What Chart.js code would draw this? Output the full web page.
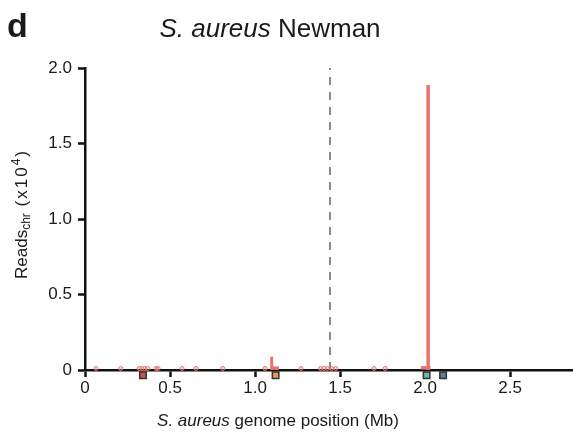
<!DOCTYPE html>
<html>
<head>
<meta charset="utf-8">
<script src="https://cdn.jsdelivr.net/npm/chart.js@4.4.1/dist/chart.umd.min.js"></script>
<style>
  html, body { margin: 0; padding: 0; background: #fff; }
  #wrap { position: relative; width: 573px; height: 434px; overflow: hidden; font-family: "Liberation Sans", Arial, sans-serif; color: #1a1a1a; }
  #cv { position: absolute; left: 0; top: 0; }
  .t { position: absolute; line-height: 1; white-space: nowrap; }
  #panel { left: 7px; top: 8px; font-size: 34px; font-weight: bold; }
  #title { left: 270px; top: 15px; font-size: 26px; transform: translateX(-50%); }
  #xtitle { left: 278px; top: 412px; font-size: 17px; transform: translateX(-50%); }
  #ytitle { left: 21px; top: 214px; font-size: 17px; transform: translate(-50%, -50%) rotate(-90deg); }
  .sub { font-size: 12px; vertical-align: -3px; margin-right: 2px; }
  .sup { font-size: 12px; vertical-align: 7px; }
  .par { letter-spacing: 2px; }
</style>
</head>
<body>
<div id="wrap">
  <canvas id="cv" width="573" height="434"></canvas>
  <div class="t" id="panel">d</div>
  <div class="t" id="title"><i>S. aureus</i> Newman</div>
  <div class="t" id="xtitle"><i>S. aureus</i> genome position (Mb)</div>
  <div class="t" id="ytitle">Reads<span class="sub">chr</span> <span class="par">(x10<span class="sup">4</span>)</span></div>
</div>
<script>
// ---- data (reads in units of 10^4, positions in Mb) ----
const xTicks = [0, 0.5, 1.0, 1.5, 2.0, 2.5];
const yTicks = [0, 0.5, 1.0, 1.5, 2.0];
const genomeLength = 2.87;

// tall read peaks
const peakPos   = [1.098, 2.018];
const peakReads = [0.088, 1.887];

// short stretches of low reads just above the axis
const stretchStart = [1.098, 1.975];
const stretchEnd   = [1.141, 2.032];
const stretchReads = [0.012, 0.014];

// isolated low-read sites
const sitePos   = [0.065, 0.21, 0.318, 0.335, 0.352, 0.368, 0.418, 0.43, 0.571, 0.653, 0.81, 1.059, 1.271, 1.385, 1.405, 1.425, 1.45, 1.475, 1.70, 1.765];
const siteReads = [0.01, 0.01, 0.01, 0.01, 0.01, 0.01, 0.01, 0.01, 0.01, 0.01, 0.01, 0.01, 0.01, 0.01, 0.01, 0.01, 0.01, 0.01, 0.01, 0.01];

// dashed reference position
const dashPos = 1.441;

// gene markers under the axis
const markerPos    = [0.341, 1.121, 2.009, 2.106];
const markerLevel  = [-0.034, -0.034, -0.034, -0.034];
const markerColors = ['#cf5450', '#e8955e', '#6cb7a7', '#5f7f98'];

// ---- build chart ----
const RED = '#e9736a';
const font = { family: '"Liberation Sans", Arial, sans-serif', size: 17 };

const datasets = [];
datasets.push({
  data: markerPos.map((p, i) => ({ x: p, y: markerLevel[i] })),
  pointStyle: 'rect', pointRadius: 4.6, pointBorderWidth: 1.5,
  pointBackgroundColor: markerColors, pointBorderColor: '#333',
  showLine: false, clip: false
});
peakPos.forEach((p, i) => {
  datasets.push({
    data: [{ x: p, y: 0 }, { x: p, y: peakReads[i] }],
    showLine: true, borderColor: RED, borderWidth: i === 1 ? 3.5 : 3,
    borderCapStyle: 'butt', pointRadius: 0, clip: false
  });
});
stretchStart.forEach((s, i) => {
  datasets.push({
    data: [{ x: s, y: stretchReads[i] }, { x: stretchEnd[i], y: stretchReads[i] }],
    showLine: true, borderColor: RED, borderWidth: 3.5,
    borderCapStyle: 'butt', pointRadius: 0, clip: false
  });
});
datasets.push({
  data: sitePos.map((p, i) => ({ x: p, y: siteReads[i] })),
  showLine: false, pointStyle: 'circle', pointRadius: 2,
  pointBorderWidth: 1, pointBorderColor: RED,
  pointBackgroundColor: 'rgba(233,115,106,0.25)', clip: false
});
datasets.push({
  data: [{ x: dashPos, y: 0 }, { x: dashPos, y: yTicks[yTicks.length - 1] }],
  showLine: true, borderColor: '#8a8a8a', borderWidth: 2,
  borderDash: [8, 7], pointRadius: 0
});

const fmt = v => (v === 0 ? '0' : Number(v).toFixed(1));

new Chart(document.getElementById('cv'), {
  type: 'scatter',
  data: { datasets },
  options: {
    responsive: false,
    animation: false,
    layout: { autoPadding: false, padding: { top: 68, right: 0, left: 0, bottom: 0 } },
    plugins: { legend: { display: false }, tooltip: { enabled: false }, title: { display: false } },
    scales: {
      x: {
        type: 'linear', min: 0, max: genomeLength,
        afterBuildTicks: s => { s.ticks = xTicks.map(v => ({ value: v })); },
        afterFit: s => { s.height = 64; s.paddingLeft = 0; s.paddingRight = 0; },
        ticks: { font, color: '#1a1a1a', padding: 1, callback: fmt, maxRotation: 0, autoSkip: false },
        grid: { drawOnChartArea: false, drawTicks: true, tickLength: 7, tickWidth: 2.5, tickColor: '#111' },
        border: { display: true, color: '#111', width: 2.5 }
      },
      y: {
        type: 'linear', min: 0, max: yTicks[yTicks.length - 1],
        afterBuildTicks: s => { s.ticks = yTicks.map(v => ({ value: v })); },
        afterFit: s => { s.width = 85; },
        ticks: { font, color: '#1a1a1a', padding: 6, callback: fmt, autoSkip: false },
        grid: { drawOnChartArea: false, drawTicks: true, tickLength: 7, tickWidth: 2.5, tickColor: '#111' },
        border: { display: true, color: '#111', width: 2.5 }
      }
    }
  }
});
</script>
</body>
</html>
